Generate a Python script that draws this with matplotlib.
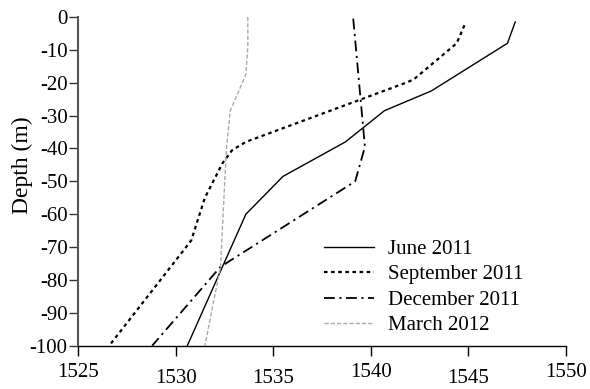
import matplotlib
matplotlib.use('Agg')
import matplotlib.pyplot as plt

# sound speed (m/s) against depth (m) for each survey
june_speed = [1547.4, 1547.0, 1543.1, 1540.7, 1538.7, 1535.5, 1533.6, 1530.6]
june_depth = [-1.5, -8, -22.5, -28.5, -38, -48.5, -60, -100]

sep_speed = [1544.8, 1544.4, 1542.2, 1541.8, 1533.6, 1532.9, 1532.4, 1531.5, 1530.8, 1526.6]
sep_depth = [-2.5, -8, -19, -20, -38, -40.5, -44.5, -55, -68, -100]

dec_speed = [1539.1, 1539.7, 1539.2, 1532.3, 1528.8]
dec_depth = [-0.5, -39.5, -50, -76, -100]

mar_speed = [1533.7, 1533.7, 1533.6, 1532.8, 1532.6, 1532.3, 1531.5]
mar_depth = [0, -9, -17.5, -28.5, -40.5, -76, -100]

plt.rcParams['font.family'] = ['Liberation Serif', 'DejaVu Serif']
plt.rcParams['axes.unicode_minus'] = False

fig = plt.figure(figsize=(5.9, 3.89), dpi=100)
ax = fig.add_axes([0.1322, 0.1113, 0.8271, 0.845])

ax.plot(june_speed, june_depth, color='black', lw=1.0, linestyle='-', label='June 2011')
ax.plot(sep_speed, sep_depth, color='black', lw=1.6, linestyle=(0, (1.6, 1.6)), label='September 2011')
ax.plot(dec_speed, dec_depth, color='black', lw=1.3, linestyle=(0, (6, 2.5, 1.2, 2.5)), label='December 2011')
ax.plot(mar_speed, mar_depth, color='#aaaaaa', lw=1.0, linestyle=(0, (3, 1.5)), label='March 2012')

ax.set_xlim(1525, 1550)
ax.set_ylim(-100, 0)
ax.set_xticks(range(1525, 1551, 5))
ax.set_yticks(range(-100, 1, 10))
ax.set_ylabel('Depth (m)', fontsize=17)
ax.yaxis.set_label_coords(-0.092, 0.55)

for side in ['top', 'right']:
    ax.spines[side].set_visible(False)
ax.spines['left'].set_color('#555555')
ax.spines['left'].set_linewidth(1.5)
ax.spines['bottom'].set_linewidth(1.0)

ax.tick_params(axis='both', direction='out', labelsize=15, width=1.0)
ax.tick_params(axis='y', length=6.5, pad=1, colors='#333333', labelcolor='black')
ax.tick_params(axis='x', length=7, pad=2)

# tick labels sit at slightly uneven heights
x_pads = [5.5, 9.5, 9.5, 5.5, 9.5, 5.5]
for tick, p in zip(ax.xaxis.get_major_ticks(), x_pads):
    tick.set_pad(p)

ax.legend(loc='lower right', bbox_to_anchor=(0.935, 0.0), frameon=False, fontsize=15,
          handlelength=2.4, handletextpad=0.7, labelspacing=0.28, borderpad=0)

fig.savefig('out.png', dpi=100)
